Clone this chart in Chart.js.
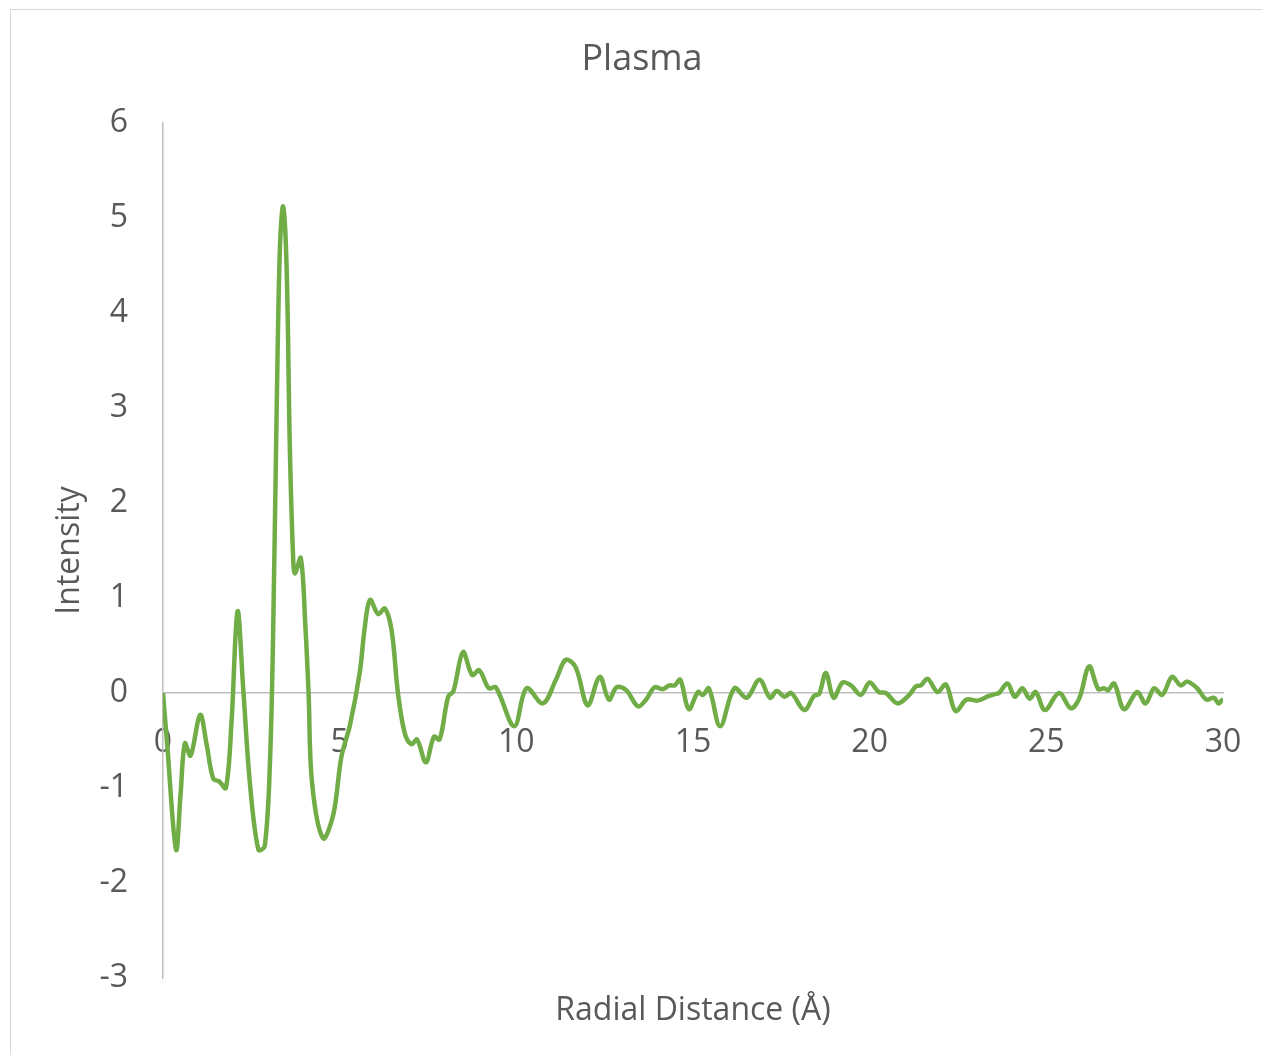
<!DOCTYPE html>
<html>
<head>
<meta charset="utf-8">
<script src="https://cdn.jsdelivr.net/npm/chart.js@4/dist/chart.umd.min.js"></script>
<style>
  html, body { margin: 0; padding: 0; background: #ffffff; overflow: hidden; width: 1262px; height: 1055px; }
  #frame { position: absolute; left: 10px; top: 9px; width: 1262px; height: 1055px; border: 1px solid #d9d9d9; background: #ffffff; }
  canvas { display: block; }
</style>
</head>
<body>
<div id="frame"><canvas id="c" width="1262" height="1055"></canvas></div>
<script>
const chartTitle = "Plasma";
const xAxisTitle = "Radial Distance (Å)";
const yAxisTitle = "Intensity";
const seriesName = "Plasma";

const radialDistance = [
  0.00, 0.12, 0.37, 0.50, 0.62, 0.78, 1.05, 1.23, 1.42, 1.59, 1.78, 1.94, 2.11, 2.27, 2.46, 2.70, 2.88,
  3.03, 3.12, 3.22, 3.31, 3.40, 3.50, 3.59, 3.69, 3.74, 3.90, 4.03, 4.12, 4.22, 4.53, 4.82,
  5.05, 5.29, 5.57, 5.71, 5.86, 6.09, 6.28, 6.47, 6.65, 6.84, 7.03, 7.19, 7.44, 7.67, 7.83,
  8.07, 8.22, 8.49, 8.75, 8.95, 9.22, 9.42, 9.94, 10.29, 10.75, 11.12, 11.40, 11.68, 12.02,
  12.36, 12.62, 12.84, 13.11, 13.44, 13.67, 13.91, 14.14, 14.33, 14.48, 14.64, 14.88, 15.14,
  15.28, 15.45, 15.77, 16.17, 16.52, 16.88, 17.18, 17.37, 17.59, 17.78, 18.15, 18.43, 18.57,
  18.76, 18.98, 19.23, 19.47, 19.75, 20.00, 20.26, 20.46, 20.79, 21.12, 21.31, 21.45, 21.64,
  21.92, 22.16, 22.43, 22.74, 23.05, 23.38, 23.57, 23.66, 23.90, 24.11, 24.32, 24.53, 24.70,
  24.96, 25.36, 25.69, 25.93, 26.21, 26.47, 26.63, 26.75, 26.92, 27.20, 27.57, 27.81, 28.05,
  28.28, 28.56, 28.80, 28.99, 29.27, 29.53, 29.74, 29.88, 30.00
];
const intensity = [
  0.00, -0.55, -1.65, -1.05, -0.53, -0.66, -0.23, -0.53, -0.90, -0.93, -1.00, -0.30, 0.86, 0.05, -0.95, -1.65, -1.61,
  -0.70, 0.70, 3.05, 4.70, 5.12, 4.46, 2.58, 1.36, 1.26, 1.42, 0.70, 0.00, -0.95, -1.53, -1.28,
  -0.67, -0.34, 0.22, 0.69, 0.98, 0.83, 0.89, 0.66, 0.00, -0.42, -0.54, -0.49, -0.73, -0.46, -0.49,
  -0.04, 0.02, 0.43, 0.19, 0.24, 0.05, 0.06, -0.35, 0.05, -0.11, 0.14, 0.35, 0.27, -0.13,
  0.17, -0.07, 0.06, 0.03, -0.14, -0.07, 0.06, 0.04, 0.08, 0.08, 0.14, -0.17, 0.01,
  -0.02, 0.05, -0.35, 0.05, -0.05, 0.14, -0.05, 0.02, -0.04, 0.00, -0.18, -0.03, -0.01,
  0.21, -0.05, 0.11, 0.08, -0.02, 0.11, 0.01, 0.00, -0.11, -0.02, 0.07, 0.08, 0.15,
  0.01, 0.09, -0.19, -0.07, -0.08, -0.03, -0.01, 0.00, 0.10, -0.04, 0.05, -0.06, 0.01,
  -0.18, 0.00, -0.16, -0.06, 0.28, 0.04, 0.05, 0.03, 0.10, -0.17, 0.01, -0.11, 0.05,
  -0.02, 0.17, 0.08, 0.12, 0.05, -0.07, -0.05, -0.11, -0.06
];
const xTickValues = [0, 5, 10, 15, 20, 25, 30];
const yTickValues = [-3, -2, -1, 0, 1, 2, 3, 4, 5, 6];

const points = radialDistance.map((x, i) => ({ x: x, y: intensity[i] }));
const fontFamily = "'Open Sans', 'Noto Sans', 'DejaVu Sans', sans-serif";
const textColor = '#595959';
const axisLineColor = '#bfbfbf';

new Chart(document.getElementById('c'), {
  type: 'scatter',
  data: {
    datasets: [{
      label: seriesName,
      data: points,
      showLine: true,
      borderColor: '#70ad47',
      backgroundColor: '#70ad47',
      borderWidth: 4.5,
      pointRadius: 0,
      pointHoverRadius: 0,
      tension: 0.35,
      fill: false
    }]
  },
  options: {
    responsive: false,
    animation: false,
    devicePixelRatio: 1,
    layout: { padding: 0 },
    plugins: {
      legend: { display: false },
      tooltip: { enabled: false },
      title: {
        display: true,
        text: chartTitle,
        color: textColor,
        font: { family: fontFamily, size: 36, weight: 'normal' },
        padding: { top: 28.4, bottom: 41.4 }
      },
      subtitle: {
        display: true,
        position: 'bottom',
        fullSize: false,
        text: xAxisTitle,
        color: textColor,
        font: { family: fontFamily, size: 32, weight: 'normal' },
        padding: { top: 13.8, bottom: 34.8 }
      }
    },
    scales: {
      x: {
        type: 'linear',
        position: { y: 0 },
        min: 0,
        max: 30,
        afterBuildTicks: (scale) => { scale.ticks = xTickValues.map(v => ({ value: v })); },
        grid: { display: false, drawTicks: false },
        border: { display: true, color: axisLineColor, width: 1.5 },
        ticks: {
          color: textColor,
          font: { family: fontFamily, size: 32 },
          padding: 31,
          maxRotation: 0,
          autoSkip: false
        }
      },
      y: {
        type: 'linear',
        position: 'left',
        min: -3,
        max: 6,
        afterBuildTicks: (scale) => { scale.ticks = yTickValues.map(v => ({ value: v })); },
        afterFit: (scale) => { scale.width = 152; },
        grid: { display: false, drawTicks: false },
        border: { display: true, color: axisLineColor, width: 1.5 },
        ticks: {
          color: textColor,
          font: { family: fontFamily, size: 32 },
          padding: 35,
          autoSkip: false
        },
        title: {
          display: true,
          text: yAxisTitle,
          color: textColor,
          font: { family: fontFamily, size: 32, weight: 'normal' },
          padding: { top: 40, bottom: 0 }
        }
      },
      yRight: {
        type: 'linear',
        position: 'right',
        display: true,
        min: -3,
        max: 6,
        afterFit: (scale) => { scale.width = 50; },
        grid: { display: false, drawTicks: false },
        border: { display: false },
        ticks: { display: false }
      }
    }
  }
});
</script>
</body>
</html>
